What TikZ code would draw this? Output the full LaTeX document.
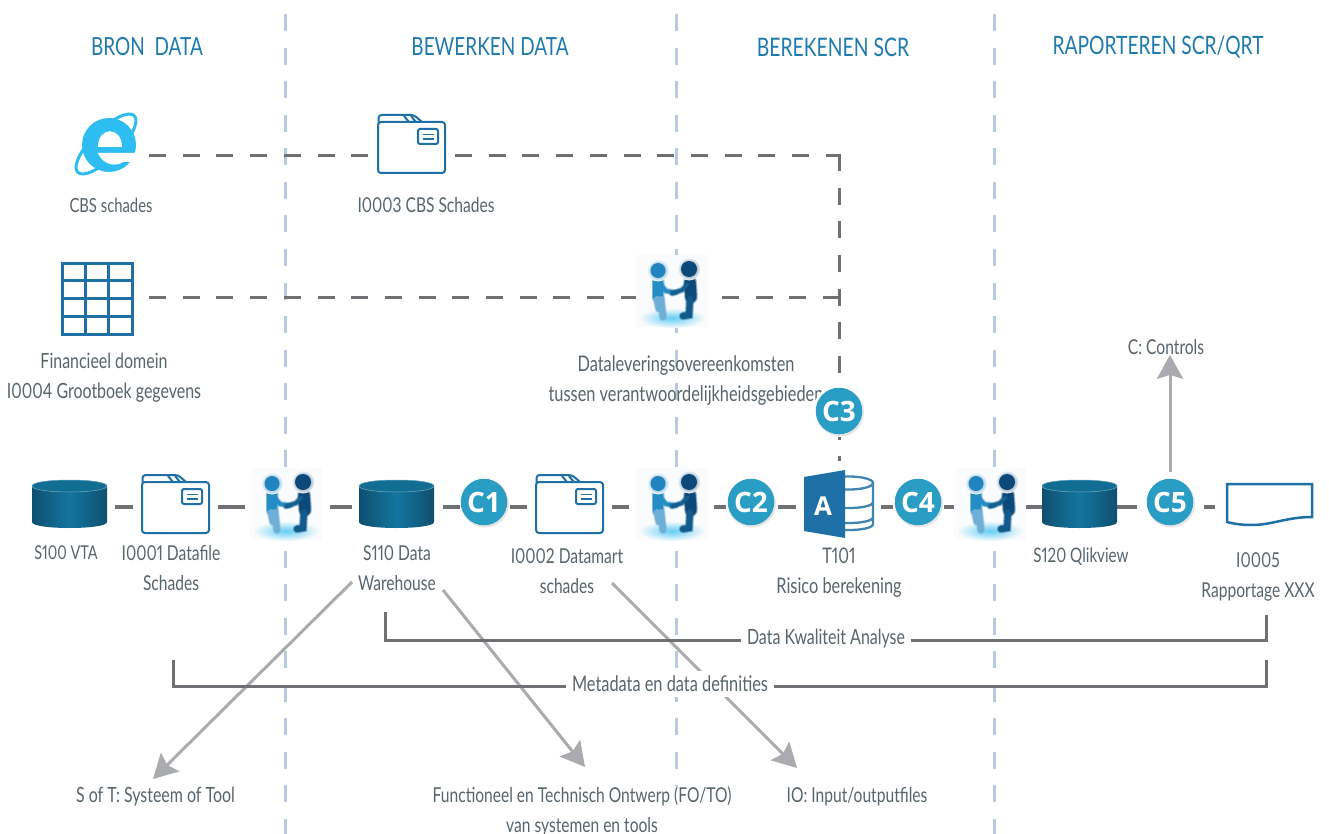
\documentclass[tikz,border=0pt]{standalone}
\usepackage{fontspec}
\setmainfont[FakeStretch=0.76,Numbers=Proportional]{Lato}
\newfontfamily\badgefont{Open Sans}
\usetikzlibrary{arrows.meta,calc}
\definecolor{divc}{HTML}{B9CADF}
\definecolor{linec}{HTML}{6F7074}
\definecolor{arrc}{HTML}{A9ABAE}
\definecolor{iconc}{HTML}{1E70A6}
\definecolor{headc}{HTML}{1F7BAE}
\definecolor{textc}{HTML}{58656B}
\definecolor{badgec}{HTML}{2A9DC5}
\definecolor{iec}{HTML}{2EBDF0}
\definecolor{cyld}{HTML}{0F4F70}
\definecolor{cylm}{HTML}{13769F}
\definecolor{handl}{HTML}{2284BE}
\definecolor{handr}{HTML}{0C4878}
\definecolor{handbg}{HTML}{F9FBFC}
\tikzset{
  x=1pt,y=-1pt,
  divider/.style={divc,line width=3pt,dash pattern=on 17pt off 16.5pt},
  flow/.style={linec,line width=3.2pt},
  dashline/.style={linec,line width=3pt,dash pattern=on 17pt off 16.7pt},
  vdashline/.style={linec,line width=3pt,dash pattern=on 17pt off 16.5pt},
  bracket/.style={linec,line width=3pt},
  grayarrow/.style={arrc,line width=3pt,-{Stealth[length=24pt,width=26pt,inset=4pt]}},
  port/.style={inner sep=0pt,outer sep=0pt,minimum height=48pt},
  head/.style={headc,font=\fontsize{25}{28}\selectfont,inner sep=0pt},
  sz/.style={font=\fontsize{#1}{30}\selectfont},
  lab/.style={textc,sz=20.5,align=center,inner sep=0pt},
  masklab/.style={lab,fill=white,inner xsep=6pt,inner ysep=2pt},
  badge/.style={circle,fill=badgec,minimum size=46.5pt,inner sep=0pt,text=white,font=\badgefont\bfseries\fontsize{28}{30}\selectfont},
  iconline/.style={iconc,line width=2pt},
  cylinder icon/.pic={
    \path[left color=cyld,right color=cyld,middle color=cylm]
      (0,6) -- (0,42) .. controls (0,50) and (75,50) .. (75,42) -- (75,6) .. controls (75,-2) and (0,-2) .. (0,6) -- cycle;
    \path[fill=cylm!92!black,draw=cylm!60!white,line width=.5pt]
      (0,6) .. controls (0,-2) and (75,-2) .. (75,6) .. controls (75,14) and (0,14) .. (0,6) -- cycle;
  },
  folder icon/.pic={
    \fill[white] (0,7) rectangle (67,58);
    \draw[iconline,rounded corners=3pt,line join=round] (0.5,8) -- (0.5,0) -- (36,0) -- (44,7);
    \draw[iconline] (26,1) -- (31,7) (33,1) -- (38,7);
    \draw[iconline,rounded corners=3pt] (0,7) rectangle (67,58);
    \draw[iconline,rounded corners=2pt] (40,14) rectangle (60,29);
    \draw[iconc,line width=1.5pt] (45,19.5) -- (56,19.5) (45,24) -- (56,24);
  },
  hands icon/.pic={
    \fill[handbg] (0,0) rectangle (72,72);
    \path[inner color=iec!75!white,outer color=handbg] (36,63) ellipse (33pt and 10pt);
    % left figure
    \foreach \w/\o in {3/.25,1.5/.45,0/1}{
      \draw[handl!85!iec,line width=\fpeval{10+\w}pt,opacity=\o,line cap=round] (22,27) -- (22,42);
      \draw[handl!65!white,line width=\fpeval{6+\w}pt,opacity=\o,line cap=round] (21,44) -- (23,54) (25,44) -- (27,62);
      \draw[handl!85!iec,line width=\fpeval{3.5+\w}pt,opacity=\o,line cap=round,line join=round] (24,29) -- (30,36) -- (40,37.5);
    }
    % right figure
    \foreach \w/\o in {3/.25,1.5/.45,0/1}{
      \draw[handr,line width=\fpeval{11+\w}pt,opacity=\o,line cap=round] (54,27) -- (55,42);
      \draw[handr!85!iec,line width=\fpeval{6+\w}pt,opacity=\o,line cap=round] (54,44) -- (53,60) -- (47,61);
      \draw[handr!80!iec,line width=\fpeval{3.5+\w}pt,opacity=\o,line cap=round,line join=round] (52,29) -- (46,35) -- (36,38.5);
    }
    \path[inner color=handl,outer color=handbg] (22,15.5) circle (11pt);
    \fill[handl] (22,15.5) circle (7.5pt);
    \path[inner color=handr,outer color=handbg] (53,14) circle (11.5pt);
    \fill[handr] (53,14) circle (8pt);
  },
  access icon/.pic={
    \fill[white] (0,-9) rectangle (70,70);
    \begin{scope}
      \clip (41,0) rectangle (70,70);
      \draw[color=iconc!85!white,line width=2.3pt] (45,13) ellipse (24pt and 6.5pt);
      \draw[color=iconc!85!white,line width=2.3pt]
        (21,13) -- (21,54) .. controls (21,62) and (69,62) .. (69,54) -- (69,13)
        (21,32) .. controls (21,40) and (69,40) .. (69,32)
        (21,47) .. controls (21,55) and (69,55) .. (69,47);
    \end{scope}
    \fill[iconc] (0,7) -- (41,0) -- (41,68) -- (0,61) -- cycle;
    \node[text=white,font=\badgefont\bfseries\fontsize{26}{28}\selectfont,inner sep=0pt] at (19,36) {A};
  },
  doc icon/.pic={
    \draw[iconline,line width=2.5pt,fill=white] (0,0) -- (85,0) -- (85,33) .. controls (60,33) and (45,41) .. (25,41) .. controls (15,41) and (8,40) .. (0,38) -- cycle;
  },
  table icon/.pic={
    \draw[iconc,line width=3pt] (0,0) rectangle (70,71);
    \draw[iconc,line width=3pt] (23.5,0) -- (23.5,71) (46.5,0) -- (46.5,71) (0,17.7) -- (70,17.7) (0,35.5) -- (70,35.5) (0,53.2) -- (70,53.2);
  },
  ie icon/.pic={
    \draw[iec,line width=3pt,rotate around={45:(30,29)}] (30,29) ellipse (40pt and 14pt);
    \fill[iec] (33,30) circle (27pt);
    \fill[white] (22,32) .. controls (22,11) and (46,11) .. (46,32) -- cycle;
    \fill[white] (22,38) -- (62,38) -- (62,47) -- (47,47) .. controls (42,51) and (28,52) .. (22,38) -- cycle;
  },
}
\begin{document}
\begin{tikzpicture}
\useasboundingbox (0,0) rectangle (1329,834);
\fill[white] (0,0) rectangle (1329,834);

% dividers
\coordinate (d1t) at (285,14.5); \coordinate (d1b) at (285,834);
\coordinate (d2t) at (676,14.5); \coordinate (d2b) at (676,834);
\coordinate (d3t) at (994,14.5); \coordinate (d3b) at (994,834);
\draw[divider] (d1t) -- (d1b);
\draw[divider] (d2t) -- (d2b);
\draw[divider] (d3t) -- (d3b);

% headers
\node[head] (h-bron) at (147,47) {BRON\ \ DATA};
\node[head] (h-bew) at (490,47) {BEWERKEN DATA};
\node[head,sz=25.5] (h-ber) at (833,47) {BEREKENEN SCR};
\node[head,sz=25.3] (h-rap) at (1158,47) {RAPORTEREN SCR/QRT};

% ports: named extents of the icons
\node[port,minimum width=60pt] (ie) at (106,156) {};
\node[port,minimum width=67pt] (fo3) at (411.5,156) {};
\node[port,minimum width=70pt] (tab) at (97,297) {};
\node[port,minimum width=72pt] (h4) at (672,297) {};
\coordinate (k1) at (839,156);
\coordinate (k2) at (839,297);
\node[port,minimum width=75pt] (s100) at (69.5,507) {};
\node[port,minimum width=67pt] (f1) at (175.5,507) {};
\node[port,minimum width=72pt] (h1) at (286,507) {};
\node[port,minimum width=75pt] (s110) at (396.5,507) {};
\node[port,minimum width=46pt] (c1p) at (484,507) {};
\node[port,minimum width=67pt] (f2) at (569.5,507) {};
\node[port,minimum width=72pt] (h2) at (672,507) {};
\node[port,minimum width=46pt] (c2p) at (751,507) {};
\node[port,minimum width=70pt,minimum height=74pt] (acc) at (839,507) {};
\node[port,minimum width=46pt] (c4p) at (918,507) {};
\node[port,minimum width=72pt] (h3) at (990,507) {};
\node[port,minimum width=75pt] (s120) at (1079.5,507) {};
\node[port,minimum width=46pt] (c5p) at (1170,507) {};
\node[port,minimum width=85pt] (doc) at (1269.5,507) {};

% dashed connectors
\draw[dashline,shorten <=13pt,shorten >=10pt] (ie) -- (fo3);
\draw[dashline,shorten <=10pt] (fo3) -- (k1);
\draw[dashline,shorten <=17pt] (tab) -- (h4);
\draw[dashline,shorten <=14pt] (h4) -- (k2);
\draw[vdashline,shorten >=9pt] ([yshift=1.5pt]k1) -- (acc.north);

% gray arrows
\coordinate (a1s) at (352,582); \coordinate (a1e) at (153,779);
\coordinate (a2s) at (443,590); \coordinate (a2e) at (585,767);
\coordinate (a3s) at (612,583); \coordinate (a3e) at (797,768);
\draw[grayarrow] (a1s) -- (a1e);
\draw[grayarrow] (a2s) -- (a2e);
\draw[grayarrow] (a3s) -- (a3e);
\node[lab,sz=20.5] (lc) at (1166,347) {C: Controls};
\draw[grayarrow,shorten <=11pt] (c5p.north) -- (lc.south -| c5p.north) ;

% flow connectors
\draw[flow,shorten <=8pt,shorten >=9pt] (s100) -- (f1);
\draw[flow,shorten <=9pt,shorten >=5pt] (f1) -- (h1);
\draw[flow,shorten <=8pt,shorten >=7pt] (h1) -- (s110);
\draw[flow,shorten <=9pt,shorten >=1pt] (s110) -- (c1p);
\draw[flow,shorten <=3pt,shorten >=9pt] (c1p) -- (f2);
\draw[flow,shorten <=9pt,shorten >=7pt] (f2) -- (h2);
\draw[flow,shorten <=6pt,shorten >=2pt] (h2) -- (c2p);
\draw[flow,shorten <=4pt,shorten >=8pt] (c2p) -- (acc);
\draw[flow,shorten <=7pt,shorten >=2pt] (acc) -- (c4p);
\draw[flow,shorten <=3pt] (c4p) -- (h3);
\draw[flow] (h3) -- (s120);
\draw[flow,shorten >=10pt] (s120) -- (c5p);
\draw[flow,shorten <=11pt,shorten >=12pt] (c5p) -- (doc);

% brackets
\coordinate (b1a) at (385,612); \coordinate (b1b) at (385,640);
\coordinate (b1c) at (1266,640); \coordinate (b1d) at (1266,615);
\coordinate (b2a) at (173,660); \coordinate (b2b) at (173,686);
\coordinate (b2c) at (1266,686); \coordinate (b2d) at (1266,660);
\draw[bracket] (b1a) -- (b1b) -- (b1c) -- (b1d);
\draw[bracket] (b2a) -- (b2b) -- (b2c) -- (b2d);
\node[masklab,sz=21] (dka) at (826,639) {Data Kwaliteit Analyse};
\node[masklab,sz=21.5,inner ysep=5pt] (mdd) at (670,684) {Metadata en data definities};

% icons
\pic at (76,115) {ie icon};
\pic at (378,115) {folder icon};
\pic at (62,263) {table icon};
\pic at (636,255) {hands icon};
\pic at (32,480) {cylinder icon};
\pic at (142,475) {folder icon};
\pic at (250,468) {hands icon};
\pic at (359,480) {cylinder icon};
\pic at (536,475) {folder icon};
\pic at (636,468) {hands icon};
\pic at (804,470) {access icon};
\pic at (954,468) {hands icon};
\pic at (1042,480) {cylinder icon};
\pic at (1227,484) {doc icon};

% labels
\node[lab,sz=19.5] (l1) at (111,205) {CBS schades};
\node[lab] (l2) at (426,205) {I0003 CBS Schades};
\node[lab,sz=21] (l3) at (104,378) {Financieel domein\\I0004 Grootboek gegevens};
\node[lab,sz=21.5] (l4) at (686,381) {Dataleveringsovereenkomsten\\tussen verantwoordelijkheidsgebieden};
\node[lab,sz=19] (l5) at (66,553) {S100 VTA};
\node[lab] (l6) at (171,568) {I0001 Datafile\\Schades};
\node[lab] (l7) at (397,568) {S110 Data\\Warehouse};
\node[lab] (l8) at (567,571) {I0002 Datamart\\schades};
\node[lab,sz=21.5] (l9) at (839,573) {T101\\Risico berekening};
\node[lab,sz=20] (l10) at (1081,557) {S120 Qlikview};
\node[lab] (l11) at (1258,577) {I0005\\Rapportage XXX};
\node[lab,sz=21] (l12) at (155.5,797) {S of T: Systeem of Tool};
\node[lab,fill=white] (l13) at (582,811) {Functioneel en Technisch Ontwerp (FO/TO)\\van systemen en tools};
\node[lab] (l14) at (857,797) {IO: Input/outputfiles};

% badges
\fill[black!10!white] (485,503.5) circle (24pt);
\fill[black!10!white] (752,503.5) circle (24pt);
\fill[white] (839,411) circle (26pt);
\fill[black!10!white] (840,412.5) circle (24pt);
\fill[black!10!white] (919,503.5) circle (24pt);
\fill[black!10!white] (1171,503.5) circle (24pt);
\node[badge] (c1) at (484,502) {C1};
\node[badge] (c2) at (751,502) {C2};
\node[badge] (c3) at (839,411) {C3};
\node[badge] (c4) at (918,502) {C4};
\node[badge] (c5) at (1170,502) {C5};
\end{tikzpicture}
\end{document}
